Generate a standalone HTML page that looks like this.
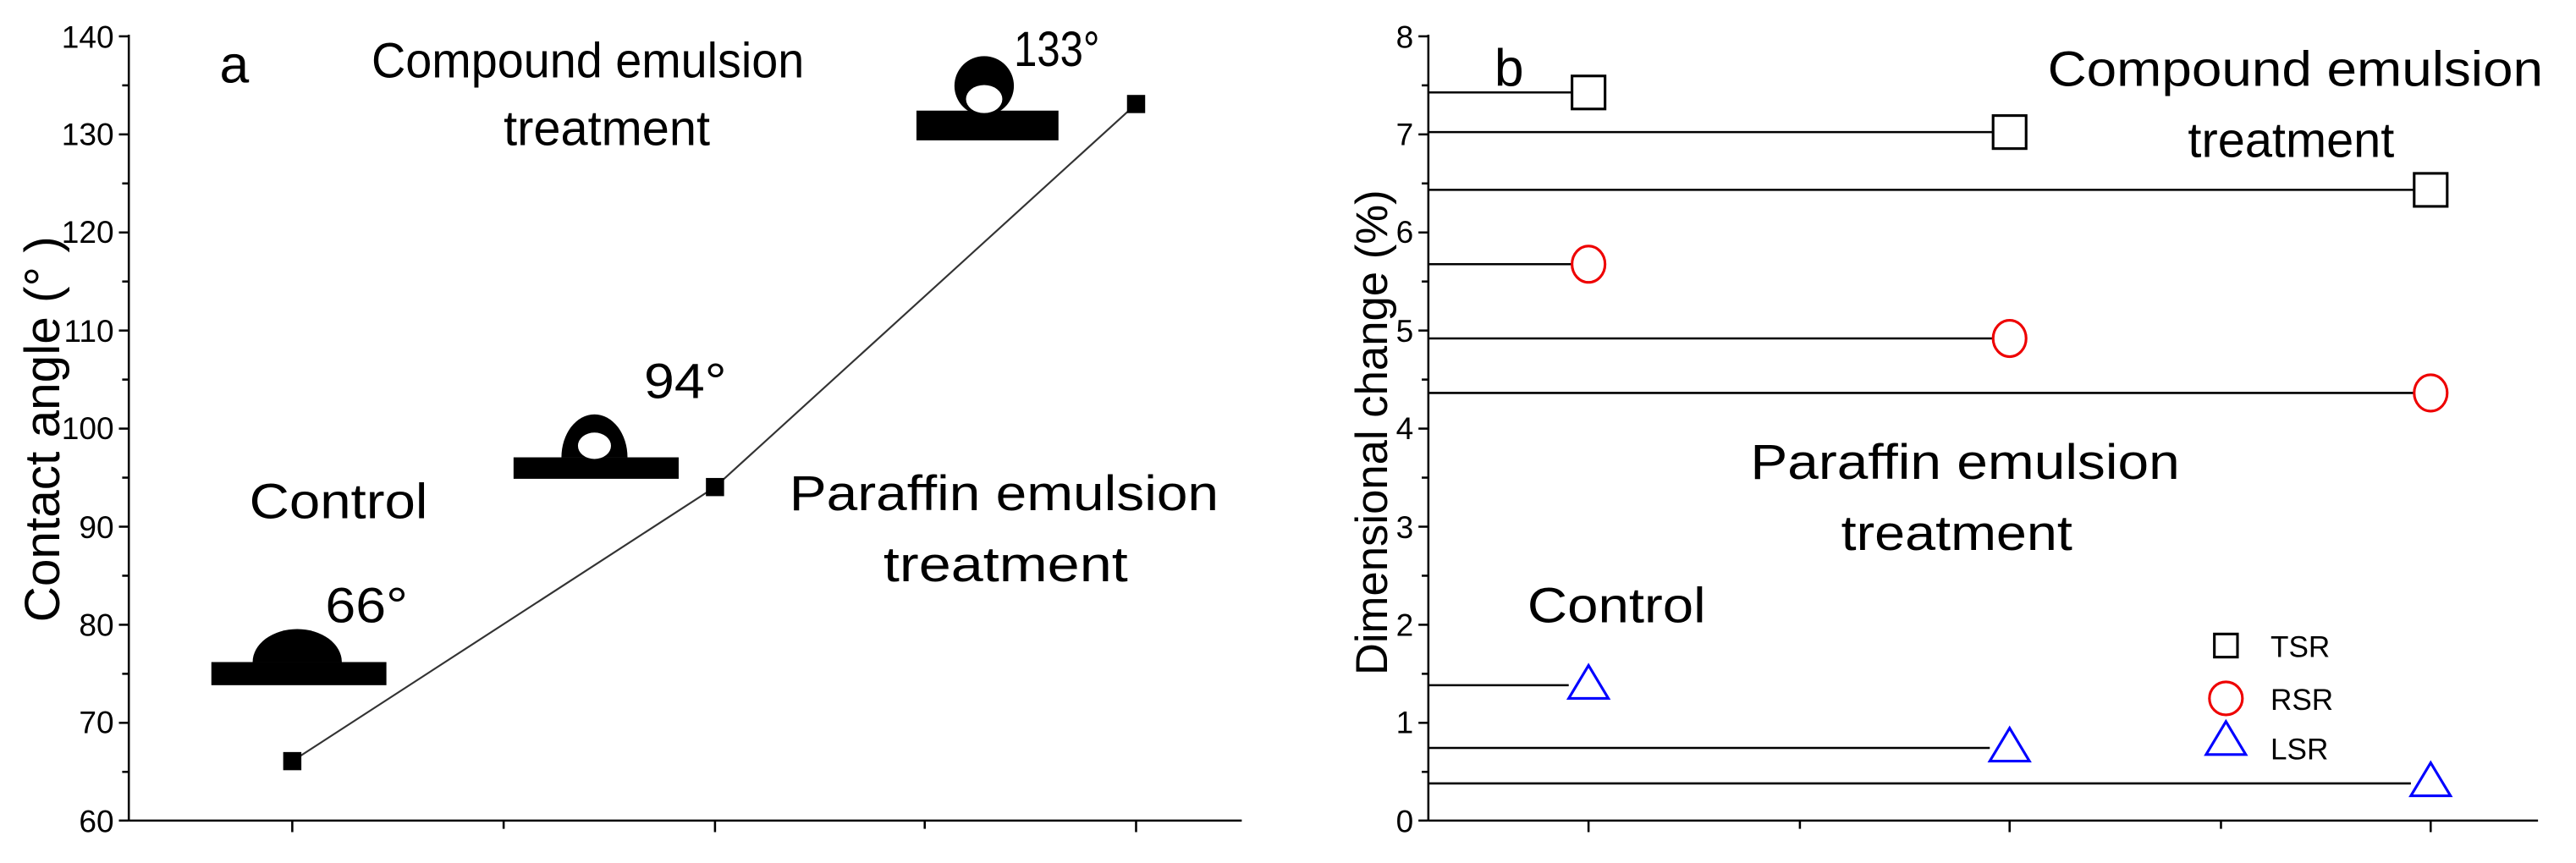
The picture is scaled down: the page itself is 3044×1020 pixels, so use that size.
<!DOCTYPE html>
<html><head><meta charset="utf-8"><style>html,body{margin:0;padding:0;background:#fff}svg{display:block}</style></head><body>
<svg width="3044" height="1020" viewBox="0 0 1560 522.7" preserveAspectRatio="none" xmlns="http://www.w3.org/2000/svg">
<rect width="1560" height="523" fill="#fff"/>
<g font-family="Liberation Sans, Arial, sans-serif" fill="#000">
<g stroke="#000" stroke-width="1.3" fill="none">
<line x1="78" y1="21" x2="78" y2="497"/>
<line x1="78" y1="497" x2="752" y2="497"/>
<line x1="72" y1="22" x2="78" y2="22"/><line x1="72" y1="81.4" x2="78" y2="81.4"/><line x1="72" y1="140.8" x2="78" y2="140.8"/><line x1="72" y1="200.2" x2="78" y2="200.2"/><line x1="72" y1="259.6" x2="78" y2="259.6"/><line x1="72" y1="319" x2="78" y2="319"/><line x1="72" y1="378.4" x2="78" y2="378.4"/><line x1="72" y1="437.8" x2="78" y2="437.8"/><line x1="72" y1="497" x2="78" y2="497"/>
<line x1="74" y1="51.7" x2="78" y2="51.7"/><line x1="74" y1="111.1" x2="78" y2="111.1"/><line x1="74" y1="170.5" x2="78" y2="170.5"/><line x1="74" y1="229.9" x2="78" y2="229.9"/><line x1="74" y1="289.3" x2="78" y2="289.3"/><line x1="74" y1="348.7" x2="78" y2="348.7"/><line x1="74" y1="408.1" x2="78" y2="408.1"/><line x1="74" y1="467.5" x2="78" y2="467.5"/>
<line x1="177" y1="497" x2="177" y2="504"/><line x1="305" y1="497" x2="305" y2="502"/><line x1="433" y1="497" x2="433" y2="504"/><line x1="560" y1="497" x2="560" y2="502"/><line x1="688" y1="497" x2="688" y2="504"/>
</g>
<g font-size="19" text-anchor="end">
<text x="69" y="29">140</text><text x="69" y="88">130</text><text x="69" y="147">120</text><text x="69" y="207">110</text><text x="69" y="266">100</text><text x="69" y="326">90</text><text x="69" y="385">80</text><text x="69" y="444">70</text><text x="69" y="504">60</text>
</g>
<text transform="translate(36,260) rotate(-90)" font-size="30" text-anchor="middle">Contact angle (°  )</text>
<polyline points="177,461 433,295 688,63" fill="none" stroke="#333" stroke-width="1.1"/>
<rect x="171.5" y="455.5" width="11" height="11"/><rect x="427.5" y="289.5" width="11" height="11"/><rect x="682.5" y="57.5" width="11" height="11"/>
<rect x="555" y="67" width="86" height="18"/>
<circle cx="596" cy="52" r="18"/><ellipse cx="596" cy="60" rx="11" ry="8.5" fill="#fff"/>
<rect x="311" y="277" width="100" height="13"/>
<path d="M340,277 A20,26 0 0 1 380,277 Z"/><ellipse cx="360" cy="270" rx="10" ry="8" fill="#fff"/>
<rect x="128" y="401" width="106" height="14"/>
<path d="M153,401 A27,20 0 0 1 207,401 Z"/>
<g font-size="30">
<text x="133" y="50" font-size="32">a</text>
<text x="225" y="47" textLength="262" lengthAdjust="spacingAndGlyphs">Compound emulsion</text>
<text x="305" y="88" textLength="125" lengthAdjust="spacingAndGlyphs">treatment</text>
<text x="614" y="40" textLength="52" lengthAdjust="spacingAndGlyphs">133°</text>
<text x="390" y="241" textLength="50" lengthAdjust="spacingAndGlyphs">94°</text>
<text x="197" y="377" textLength="50" lengthAdjust="spacingAndGlyphs">66°</text>
<text x="151" y="314" textLength="108" lengthAdjust="spacingAndGlyphs">Control</text>
<text x="478" y="309" textLength="260" lengthAdjust="spacingAndGlyphs">Paraffin emulsion</text>
<text x="535" y="352" textLength="148" lengthAdjust="spacingAndGlyphs">treatment</text>
</g>
<g stroke="#000" stroke-width="1.3" fill="none">
<line x1="865" y1="21" x2="865" y2="497"/>
<line x1="865" y1="497" x2="1537" y2="497"/>
<line x1="859" y1="22" x2="865" y2="22"/><line x1="859" y1="81.4" x2="865" y2="81.4"/><line x1="859" y1="140.8" x2="865" y2="140.8"/><line x1="859" y1="200.2" x2="865" y2="200.2"/><line x1="859" y1="259.6" x2="865" y2="259.6"/><line x1="859" y1="319" x2="865" y2="319"/><line x1="859" y1="378.4" x2="865" y2="378.4"/><line x1="859" y1="437.8" x2="865" y2="437.8"/><line x1="859" y1="497" x2="865" y2="497"/>
<line x1="861" y1="51.7" x2="865" y2="51.7"/><line x1="861" y1="111.1" x2="865" y2="111.1"/><line x1="861" y1="170.5" x2="865" y2="170.5"/><line x1="861" y1="229.9" x2="865" y2="229.9"/><line x1="861" y1="289.3" x2="865" y2="289.3"/><line x1="861" y1="348.7" x2="865" y2="348.7"/><line x1="861" y1="408.1" x2="865" y2="408.1"/><line x1="861" y1="467.5" x2="865" y2="467.5"/>
<line x1="962" y1="497" x2="962" y2="504"/><line x1="1090" y1="497" x2="1090" y2="502"/><line x1="1217" y1="497" x2="1217" y2="504"/><line x1="1345" y1="497" x2="1345" y2="502"/><line x1="1472" y1="497" x2="1472" y2="504"/>
<line x1="865" y1="56" x2="952" y2="56"/><line x1="865" y1="80" x2="1207" y2="80"/><line x1="865" y1="115" x2="1462" y2="115"/>
<line x1="865" y1="160" x2="952" y2="160"/><line x1="865" y1="205" x2="1207" y2="205"/><line x1="865" y1="238" x2="1462" y2="238"/>
<line x1="865" y1="415" x2="950" y2="415"/><line x1="865" y1="453" x2="1205" y2="453"/><line x1="865" y1="474.5" x2="1460" y2="474.5"/>
<rect x="952" y="46" width="20" height="20" stroke-width="1.6"/><rect x="1207" y="70" width="20" height="20" stroke-width="1.6"/><rect x="1462" y="105" width="20" height="20" stroke-width="1.6"/>
</g>
<g fill="none" stroke="#e00" stroke-width="1.6">
<ellipse cx="962" cy="160" rx="10" ry="11"/><ellipse cx="1217" cy="205" rx="10" ry="11"/><ellipse cx="1472" cy="238" rx="10" ry="11"/>
<circle cx="1348" cy="423" r="10"/>
</g>
<g fill="none" stroke="#00f" stroke-width="1.6">
<polygon points="962,403 950,423 974,423"/><polygon points="1217,441 1205,461 1229,461"/><polygon points="1472,462 1460,482 1484,482"/>
<polygon points="1348,437 1336,457 1360,457"/>
</g>
<rect x="1341" y="384" width="14" height="14" fill="none" stroke="#000" stroke-width="1.6"/>
<g font-size="18">
<text x="1375" y="398">TSR</text><text x="1375" y="430">RSR</text><text x="1375" y="460">LSR</text>
</g>
<g font-size="19" text-anchor="end">
<text x="856" y="29">8</text><text x="856" y="88">7</text><text x="856" y="147">6</text><text x="856" y="207">5</text><text x="856" y="266">4</text><text x="856" y="326">3</text><text x="856" y="385">2</text><text x="856" y="444">1</text><text x="856" y="504">0</text>
</g>
<text transform="translate(840,262) rotate(-90)" font-size="27" text-anchor="middle">Dimensional change (%)</text>
<g font-size="30">
<text x="905" y="52" font-size="32">b</text>
<text x="1240" y="52" textLength="300" lengthAdjust="spacingAndGlyphs">Compound emulsion</text>
<text x="1325" y="95" textLength="125" lengthAdjust="spacingAndGlyphs">treatment</text>
<text x="1060" y="290" textLength="260" lengthAdjust="spacingAndGlyphs">Paraffin emulsion</text>
<text x="1115" y="333" textLength="140" lengthAdjust="spacingAndGlyphs">treatment</text>
<text x="925" y="377" textLength="108" lengthAdjust="spacingAndGlyphs">Control</text>
</g>
</g>
</svg>
</body></html>
